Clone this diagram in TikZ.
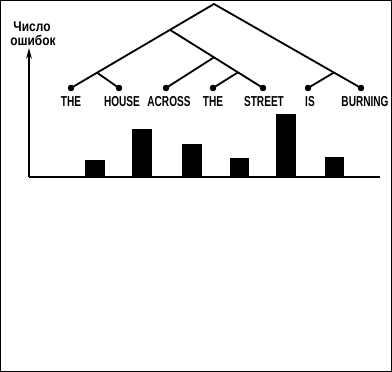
\documentclass[tikz,border=0pt]{standalone}
\usepackage{fontspec}
\usepackage{tikz}
\usetikzlibrary{arrows.meta,calc}
\usepackage{tkz-euclide}
\newfontfamily\wordfont[FakeStretch=0.7]{Liberation Sans}
\newfontfamily\countfont[FakeStretch=0.85]{Liberation Sans}

\tikzset{
  word/.style={font=\wordfont\bfseries\fontsize{20.5}{20.5}\selectfont, inner sep=0pt},
  countlabel/.style={font=\countfont\bfseries\fontsize{20}{20}\selectfont, inner sep=0pt},
}

\begin{document}
\begin{tikzpicture}[scale=0.5, line width=2.6pt]
    \useasboundingbox (0,0) rectangle (39.2,37.2);
    \draw[line width=2pt] (0.07,0.07) rectangle (39.13,37.13);

    % words of the sentence
    \tkzDefPoint(21.4,36.8){R}
    \tkzDefPoint(7.1,28.4){A}
    \tkzDefPoint(11.9,28.4){B}
    \tkzDefPoint(16.6,28.4){C}
    \tkzDefPoint(21.3,28.4){D}
    \tkzDefPoint(26.3,28.4){E}
    \tkzDefPoint(30.8,28.4){F}
    \tkzDefPoint(36.1,28.4){G}

    % branching points
    \coordinate (NP) at ($(R)!0.308!(A)$);
    \coordinate (DN) at ($(R)!0.818!(A)$);
    \coordinate (PP) at ($(NP)!0.473!(E)$);
    \coordinate (DS) at ($(NP)!0.731!(E)$);
    \coordinate (VP) at ($(R)!0.816!(G)$);

    \tkzDrawSegments[line width=2.6pt](R,A R,G NP,E DN,B PP,C DS,D VP,F)
    \foreach \p in {A,B,C,D,E,F,G}
        \fill (\p) circle (0.33);

    \node[word] (wA) at (7.1,27.0) {THE};
    \node[word] (wB) at (12.2,27.0) {HOUSE};
    \node[word] (wC) at (16.9,27.0) {ACROSS};
    \node[word] (wD) at (21.3,27.0) {THE};
    \node[word] (wE) at (26.4,27.0) {STREET};
    \node[word] (wF) at (31.0,27.0) {IS};
    \node[word] (wG) at (36.5,27.0) {BURNING};

    % axes
    \tkzDefPoint(2.9,19.5){O}
    \tkzDefPoint(2.9,32.4){Y}
    \tkzDefPoint(38.0,19.5){X}
    \draw[-{Stealth[length=15pt,width=8pt]}] (O) -- (Y);
    \draw (O) -- (X);
    \node[countlabel] (lab1) at (3.2,34.5) {Число};
    \node[countlabel] (lab2) at (3.3,33.2) {ошибок};

    % error counts
    \foreach \xa/\xb/\h in {8.5/10.5/21.2, 13.2/15.2/24.3, 18.2/20.2/22.8,
                            23.0/24.9/21.4, 27.6/29.6/25.8, 32.5/34.4/21.5}
        \fill (\xa,19.5) rectangle (\xb,\h);
\end{tikzpicture}
\end{document}
